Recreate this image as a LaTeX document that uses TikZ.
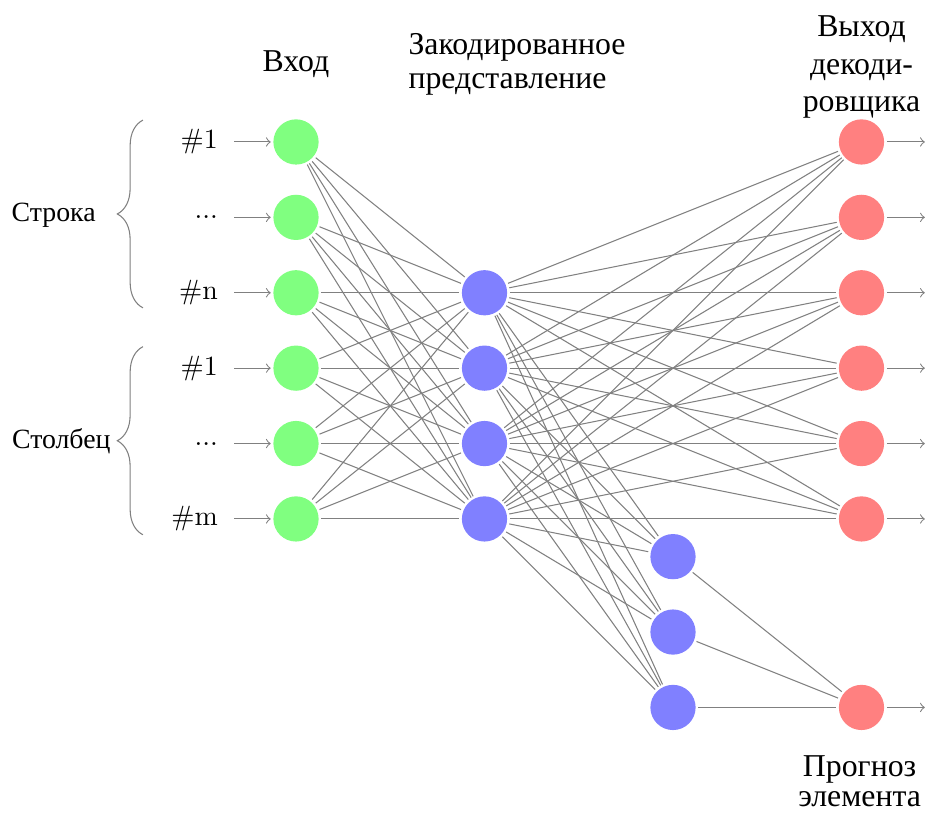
\documentclass[tikz,border=0pt]{standalone}
\usepackage{fontspec}
\newfontfamily\cyr{Liberation Serif}
\usetikzlibrary{decorations.pathreplacing}
\begin{document}
\begin{tikzpicture}[
  neuron/.style={circle, minimum size=0.6cm, inner sep=0pt, outer sep=1pt},
  inp/.style={neuron, fill=green!50},
  hid/.style={neuron, fill=blue!50},
  outp/.style={neuron, fill=red!50},
  conn/.style={black!50},
  arr/.style={black!50, ->},
  bracestyle/.style={black!50, decorate, decoration={brace, amplitude=0.34cm}},
  numlbl/.style={font=\fontsize{10.5}{12.6}\selectfont, inner sep=0pt},
  sidelbl/.style={font=\cyr\fontsize{10.5}{12.6}\selectfont, inner sep=0pt},
  toplbl/.style={font=\cyr\fontsize{12}{14.4}\selectfont, inner sep=0pt, align=center}
]
\useasboundingbox (-3.926,-8.939) rectangle (8.382,1.883);

% neurons
\foreach \i in {1,...,6} \node[inp] (I\i) at (0,{1-\i}) {};
\foreach \j in {1,...,4} \node[hid] (H\j) at (2.5,{-1-\j}) {};
\foreach \k in {1,2,3} \node[hid] (E\k) at (5,{-4.5-\k}) {};
\foreach \i in {1,...,6} \node[outp] (O\i) at (7.5,{1-\i}) {};
\node[outp] (O7) at (7.5,-7.5) {};

% connections
\foreach \i in {1,...,6} \foreach \j in {1,...,4} \draw[conn] (I\i) -- (H\j);
\foreach \j in {1,...,4} {
  \foreach \i in {1,...,6} \draw[conn] (H\j) -- (O\i);
  \foreach \k in {1,2,3} \draw[conn] (H\j) -- (E\k);
}
\foreach \k in {1,2,3} \draw[conn] (E\k) -- (O7);

% input labels
\node[numlbl, anchor=east] (L1) at (-1.03,0) {\#1};
\node[numlbl, anchor=east] (L2) at (-1.03,-1) {{.}{.}{.}};
\node[numlbl, anchor=east] (L3) at (-1.03,-2) {\#n};
\node[numlbl, anchor=east] (L4) at (-1.03,-3) {\#1};
\node[numlbl, anchor=east] (L5) at (-1.03,-4) {{.}{.}{.}};
\node[numlbl, anchor=east] (L6) at (-1.03,-5) {\#m};
\foreach \i in {1,...,6} {
  \coordinate (S\i) at (-0.82,{1-\i});
  \draw[arr] (S\i) -- (I\i);
}

% output arrows
\foreach \i in {1,...,6} {
  \coordinate (T\i) at (8.34,{1-\i});
  \draw[arr] (O\i) -- (T\i);
}
\coordinate (T7) at (8.34,-7.5);
\draw[arr] (O7) -- (T7);

% braces
\coordinate (B1a) at (-2.03,-2.2);
\coordinate (B1b) at (-2.03,0.29);
\coordinate (B2a) at (-2.03,-5.21);
\coordinate (B2b) at (-2.03,-2.715);
\draw[bracestyle] (B1a) -- (B1b);
\draw[bracestyle] (B2a) -- (B2b);
\node[sidelbl, anchor=base] (rowL) at (-3.214,-1.057) {Строка};
\node[sidelbl, anchor=base] (colL) at (-3.113,-4.07) {Столбец};

% headings (base anchor = baseline of last line)
\node[toplbl, anchor=base] (inL) at (0,0.928) {Вход};
\node[toplbl, align=left, anchor=base west, font=\cyr\fontsize{12}{12.8}\selectfont] (encL) at (1.485,0.712) {Закодированное\\представление};
\node[toplbl, anchor=base, font=\cyr\fontsize{12}{14.1}\selectfont] (decL) at (7.5,0.402) {Выход\\декоди-\\ровщика};
\node[toplbl, anchor=base, font=\cyr\fontsize{12}{11.3}\selectfont] (prL) at (7.475,-8.816) {Прогноз\\элемента};
\end{tikzpicture}
\end{document}
